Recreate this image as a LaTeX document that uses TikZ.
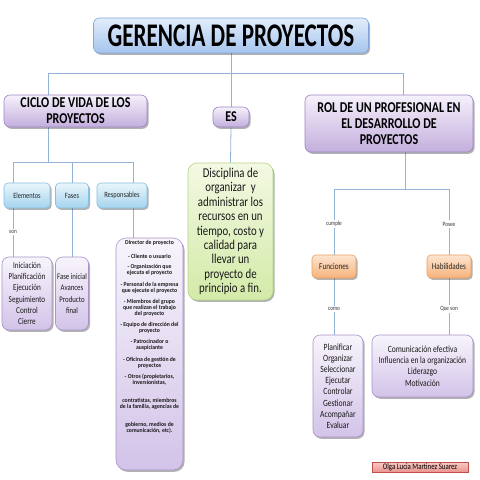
\documentclass[tikz,border=0pt]{standalone}
\usepackage{fontspec}
\setmainfont{Carlito}[FakeStretch=0.8]
\newfontfamily\titlefont{Carlito}[FakeStretch=0.7]
\newfontfamily\listfont{Carlito}[FakeStretch=0.95]
\usetikzlibrary{shadows,backgrounds}
\definecolor{conncol}{HTML}{95B3D7}
\definecolor{tTop}{HTML}{E2EDFB}\definecolor{tBot}{HTML}{A6C4EE}\definecolor{tBrd}{HTML}{7FA6DC}
\definecolor{pTop}{HTML}{F6F1FB}\definecolor{pBot}{HTML}{C3AEDD}\definecolor{pBrd}{HTML}{9C86C2}
\definecolor{bTop}{HTML}{EAF6FC}\definecolor{bBot}{HTML}{A4D4EE}\definecolor{bBrd}{HTML}{86BFE0}
\definecolor{gTop}{HTML}{F3F9E3}\definecolor{gBot}{HTML}{D3EAA8}\definecolor{gBrd}{HTML}{B3D488}
\definecolor{oTop}{HTML}{FDE5D0}\definecolor{oBot}{HTML}{F6B27A}\definecolor{oBrd}{HTML}{E9A064}
\definecolor{lTop}{HTML}{F8F4FC}\definecolor{lBot}{HTML}{D2C3E8}\definecolor{lBrd}{HTML}{A894C9}
\definecolor{aTop}{HTML}{F9CBC6}\definecolor{aBot}{HTML}{E8948D}\definecolor{aBrd}{HTML}{C0504D}
\tikzset{
  base/.style={draw, inner sep=0pt, align=center, line width=0.6pt,
    drop shadow={shadow xshift=1.5pt, shadow yshift=-1.8pt, opacity=0.3, fill=black}},
  titlebox/.style={base, rounded corners=6pt, top color=tTop, bottom color=tBot, draw=tBrd,
    font=\titlefont\bfseries\fontsize{33}{36}\selectfont},
  headbox/.style={base, rounded corners=6pt, top color=pTop, bottom color=pBot, draw=pBrd,
    font=\bfseries\fontsize{15}{16}\selectfont},
  bluebox/.style={base, rounded corners=4pt, top color=bTop, bottom color=bBot, draw=bBrd,
    font=\fontsize{8}{9}\selectfont, text=black!85},
  greenbox/.style={base, rounded corners=9pt, top color=gTop, bottom color=gBot, draw=gBrd,
    font=\fontsize{13.5}{14.4}\selectfont, text=black!90},
  orangebox/.style={base, rounded corners=4pt, top color=oTop, bottom color=oBot, draw=oBrd,
    font=\fontsize{9}{10}\selectfont, text=black!85},
  lavbox/.style={base, rounded corners=7pt, top color=lTop, bottom color=lBot, draw=lBrd,
    font=\fontsize{9.5}{11.2}\selectfont, text=black!90},
  authbox/.style={draw=aBrd, inner sep=0pt, line width=0.5pt, top color=aTop, bottom color=aBot,
    font=\fontsize{8.5}{9}\selectfont},
  lbl/.style={inner sep=1.5pt, font=\fontsize{6.5}{7}\selectfont, text=black!80},
  conn/.style={draw=conncol, line width=0.8pt}
}
\begin{document}
\begin{tikzpicture}[x=1pt,y=-1pt]
\useasboundingbox (0,0) rectangle (480,480);
% boxes
\node[titlebox, minimum width=275pt, minimum height=35pt] (title) at (231,35.5) {GERENCIA DE PROYECTOS};
\node[headbox, minimum width=143pt, minimum height=32pt] (cl) at (75.5,111) {CICLO DE VIDA DE LOS\\PROYECTOS};
\node[headbox, minimum width=36pt, minimum height=20pt] (es) at (231,117) {ES};
\node[headbox, minimum width=168pt, minimum height=57pt] (rol) at (389,123.5) {ROL DE UN PROFESIONAL EN\\EL DESARROLLO DE\\PROYECTOS};
\node[bluebox, minimum width=46pt, minimum height=25pt] (el) at (27,195.5) {Elementos};
\node[bluebox, minimum width=33pt, minimum height=25pt] (fa) at (72,195.5) {Fases};
\node[bluebox, minimum width=50pt, minimum height=25pt] (rs) at (122,195.5) {Responsables};
\node[lavbox, minimum width=50pt, minimum height=73pt, font=\fontsize{9}{11.2}\selectfont] (ini) at (27,293.5) {Iniciación\\Planificación\\Ejecución\\Seguimiento\\Control\\Cierre};
\node[lavbox, minimum width=33pt, minimum height=73pt, font=\fontsize{8.5}{11.2}\selectfont] (fi) at (72,293.5) {Fase inicial\\Avances\\Producto\\final};
\node[lavbox, rounded corners=10pt, minimum width=67pt, minimum height=232pt, font=\listfont\bfseries\fontsize{6}{6}\selectfont] (rl) at (149.5,354) {Director de proyecto\\[8pt]
- Cliente o usuario\\[4pt]
- Organización que\\ejecuta el proyecto\\[6pt]
- Personal de la empresa\\que ejecute el proyecto\\[5pt]
- Miembros del grupo\\que realizan el trabajo\\del proyecto\\[5pt]
- Equipo de dirección del\\proyecto\\[5pt]
- Patrocinador o\\auspiciante\\[6pt]
- Oficina de gestión de\\proyectos\\[5pt]
- Otros (propietarios,\\inversionistas,\\[12pt]
contratistas, miembros\\de la familia, agencias de\\[12pt]
gobierno, medios de\\comunicación, etc).\\[30pt]\mbox{}};
\node[greenbox, minimum width=85pt, minimum height=137pt] (gr) at (230.5,231.5) {Disciplina de\\organizar\ \ y\\administrar los\\recursos en un\\tiempo, costo y\\calidad para\\llevar un\\proyecto de\\principio a fin.};
\node[orangebox, minimum width=44pt, minimum height=23pt] (fun) at (334,266.5) {Funciones};
\node[orangebox, minimum width=44pt, minimum height=23pt] (hab) at (449,266.5) {Habilidades};
\node[lavbox, minimum width=50pt, minimum height=102pt] (pl) at (338,386) {Planificar\\Organizar\\Seleccionar\\Ejecutar\\Controlar\\Gestionar\\Acompañar\\Evaluar};
\node[lavbox, minimum width=101pt, minimum height=62pt] (com) at (422.5,366) {Comunicación efectiva\\Influencia en la organización\\Liderazgo\\Motivación};
\node[authbox, minimum width=96pt, minimum height=10pt] (au) at (420,467) {Olga Lucia Martinez Suarez};
% labels
\node[lbl] (son) at (13,232) {son};
\node[lbl] (cum) at (334,224) {cumple};
\node[lbl] (pos) at (449,224) {Posee};
\node[lbl] (como) at (334,309) {como};
\node[lbl] (que) at (449,309) {Que son};
% junctions
\coordinate (hl) at (48,73);
\coordinate (hr) at (403,73);
\coordinate (c1) at (48,162);
\coordinate (ea) at (13,162);
\coordinate (eb) at (133,162);
\coordinate (r1) at (405,189);
\coordinate (ra) at (334,189);
\coordinate (rb) at (449,189);
\begin{pgfonlayer}{background}
\fill[white] (0,0) rectangle (480,480);
\draw[conn] (title.south) -- (es.north);
\draw[conn] (cl.north -| hl) -- (hl) -- (hr) -- (rol.north -| hr);
\draw[conn] (es.south) -- (gr.north);
\draw[conn] (cl.south -| c1) -- (c1);
\draw[conn] (el.north -| ea) -- (ea) -- (eb) -- (rs.north -| eb);
\draw[conn] (fa.north) -- (fa.north |- c1);
\draw[conn] (el.south -| son) -- (son) -- (ini.north -| son);
\draw[conn] (fa.south) -- (fi.north);
\draw[conn] (rs.south -| eb) -- (rl.north -| eb);
\draw[conn] (rol.south -| r1) -- (r1);
\draw[conn] (cum) -- (ra) -- (rb) -- (pos);
\draw[conn] (cum) -- (fun);
\draw[conn] (pos) -- (hab);
\draw[conn] (fun) -- (como) -- (pl.north -| como);
\draw[conn] (hab) -- (que) -- (com.north -| que);
\end{pgfonlayer}
\end{tikzpicture}
\end{document}
